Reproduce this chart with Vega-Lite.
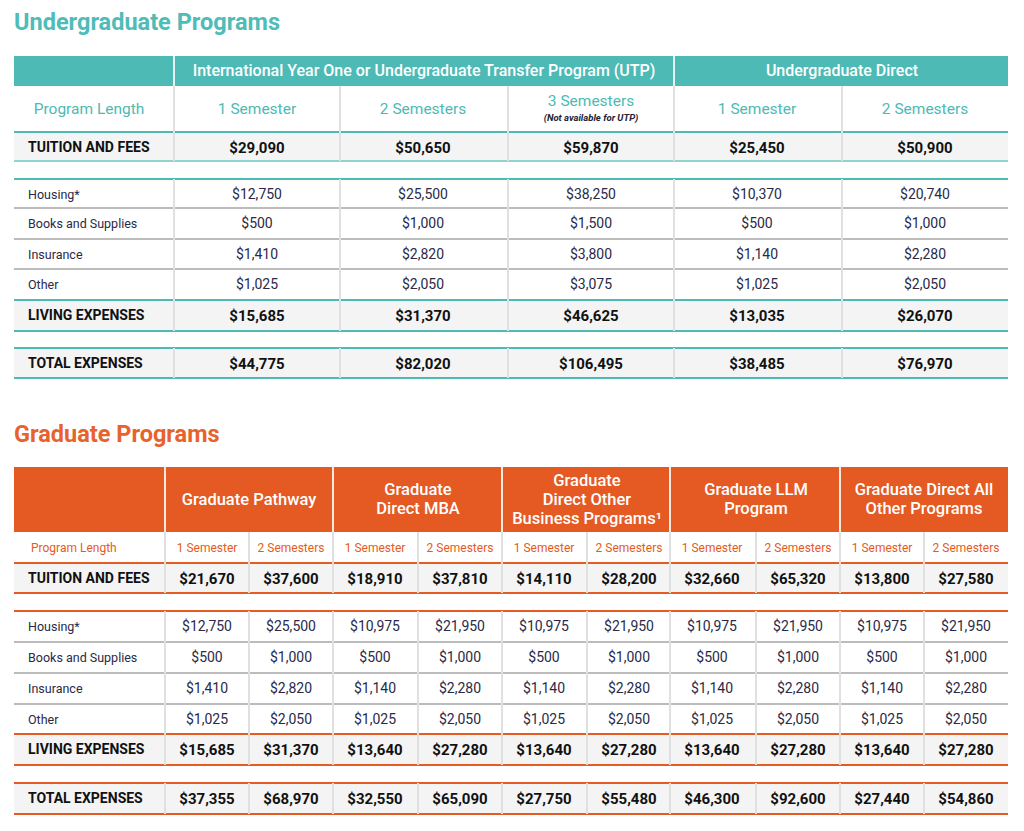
{
"$schema":"https://vega.github.io/schema/vega-lite/v6.json",
"width":1024,"height":831,"autosize":"none","padding":0,
"background":"#ffffff",
"config":{"view":{"stroke":null},"text":{"font":"Roboto, Liberation Sans, sans-serif"}},
"datasets":{
"cells":[
{"t":"U","r":0,"c":0,"v":"Undergraduate Programs","k":"title"},
{"t":"U","r":1,"c":2,"v":"International Year One or Undergraduate Transfer Program (UTP)","k":"h1c"},
{"t":"U","r":1,"c":5,"v":"Undergraduate Direct","k":"h1b"},
{"t":"U","r":2,"c":0,"v":"Program Length","k":"pl"},
{"t":"U","r":2,"c":1,"v":"1 Semester","k":"sem"},
{"t":"U","r":2,"c":2,"v":"2 Semesters","k":"sem"},
{"t":"U","r":2,"c":3,"v":"3 Semesters","k":"sem3"},
{"t":"U","r":2,"c":3,"v":"(Not available for UTP)","k":"note"},
{"t":"U","r":2,"c":4,"v":"1 Semester","k":"sem"},
{"t":"U","r":2,"c":5,"v":"2 Semesters","k":"sem"},
{"t":"U","r":3,"c":0,"v":"TUITION AND FEES","k":"labb"},
{"t":"U","r":3,"c":1,"v":"$29,090","k":"valb"},{"t":"U","r":3,"c":2,"v":"$50,650","k":"valb"},{"t":"U","r":3,"c":3,"v":"$59,870","k":"valb"},{"t":"U","r":3,"c":4,"v":"$25,450","k":"valb"},{"t":"U","r":3,"c":5,"v":"$50,900","k":"valb"},
{"t":"U","r":5,"c":0,"v":"Housing*","k":"lab"},
{"t":"U","r":5,"c":1,"v":"$12,750","k":"val"},{"t":"U","r":5,"c":2,"v":"$25,500","k":"val"},{"t":"U","r":5,"c":3,"v":"$38,250","k":"val"},{"t":"U","r":5,"c":4,"v":"$10,370","k":"val"},{"t":"U","r":5,"c":5,"v":"$20,740","k":"val"},
{"t":"U","r":6,"c":0,"v":"Books and Supplies","k":"lab"},
{"t":"U","r":6,"c":1,"v":"$500","k":"val"},{"t":"U","r":6,"c":2,"v":"$1,000","k":"val"},{"t":"U","r":6,"c":3,"v":"$1,500","k":"val"},{"t":"U","r":6,"c":4,"v":"$500","k":"val"},{"t":"U","r":6,"c":5,"v":"$1,000","k":"val"},
{"t":"U","r":7,"c":0,"v":"Insurance","k":"lab"},
{"t":"U","r":7,"c":1,"v":"$1,410","k":"val"},{"t":"U","r":7,"c":2,"v":"$2,820","k":"val"},{"t":"U","r":7,"c":3,"v":"$3,800","k":"val"},{"t":"U","r":7,"c":4,"v":"$1,140","k":"val"},{"t":"U","r":7,"c":5,"v":"$2,280","k":"val"},
{"t":"U","r":8,"c":0,"v":"Other","k":"lab"},
{"t":"U","r":8,"c":1,"v":"$1,025","k":"val"},{"t":"U","r":8,"c":2,"v":"$2,050","k":"val"},{"t":"U","r":8,"c":3,"v":"$3,075","k":"val"},{"t":"U","r":8,"c":4,"v":"$1,025","k":"val"},{"t":"U","r":8,"c":5,"v":"$2,050","k":"val"},
{"t":"U","r":9,"c":0,"v":"LIVING EXPENSES","k":"labb"},
{"t":"U","r":9,"c":1,"v":"$15,685","k":"valb"},{"t":"U","r":9,"c":2,"v":"$31,370","k":"valb"},{"t":"U","r":9,"c":3,"v":"$46,625","k":"valb"},{"t":"U","r":9,"c":4,"v":"$13,035","k":"valb"},{"t":"U","r":9,"c":5,"v":"$26,070","k":"valb"},
{"t":"U","r":11,"c":0,"v":"TOTAL EXPENSES","k":"labb"},
{"t":"U","r":11,"c":1,"v":"$44,775","k":"valb"},{"t":"U","r":11,"c":2,"v":"$82,020","k":"valb"},{"t":"U","r":11,"c":3,"v":"$106,495","k":"valb"},{"t":"U","r":11,"c":4,"v":"$38,485","k":"valb"},{"t":"U","r":11,"c":5,"v":"$76,970","k":"valb"},
{"t":"G","r":12,"c":0,"v":"Graduate Programs","k":"title"},
{"t":"G","r":13,"c":2,"v":"Graduate Pathway","k":"h1one"},
{"t":"G","r":13,"c":4,"v":"Graduate\nDirect MBA","k":"h1two"},
{"t":"G","r":13,"c":6,"v":"Graduate\nDirect Other\nBusiness Programs¹","k":"h1three"},
{"t":"G","r":13,"c":8,"v":"Graduate LLM\nProgram","k":"h1two"},
{"t":"G","r":13,"c":10,"v":"Graduate Direct All\nOther Programs","k":"h1two"},
{"t":"G","r":14,"c":0,"v":"Program Length","k":"pl"},
{"t":"G","r":14,"c":1,"v":"1 Semester","k":"sem"},{"t":"G","r":14,"c":2,"v":"2 Semesters","k":"sem"},{"t":"G","r":14,"c":3,"v":"1 Semester","k":"sem"},{"t":"G","r":14,"c":4,"v":"2 Semesters","k":"sem"},{"t":"G","r":14,"c":5,"v":"1 Semester","k":"sem"},{"t":"G","r":14,"c":6,"v":"2 Semesters","k":"sem"},{"t":"G","r":14,"c":7,"v":"1 Semester","k":"sem"},{"t":"G","r":14,"c":8,"v":"2 Semesters","k":"sem"},{"t":"G","r":14,"c":9,"v":"1 Semester","k":"sem"},{"t":"G","r":14,"c":10,"v":"2 Semesters","k":"sem"},
{"t":"G","r":15,"c":0,"v":"TUITION AND FEES","k":"labb"},
{"t":"G","r":15,"c":1,"v":"$21,670","k":"valb"},{"t":"G","r":15,"c":2,"v":"$37,600","k":"valb"},{"t":"G","r":15,"c":3,"v":"$18,910","k":"valb"},{"t":"G","r":15,"c":4,"v":"$37,810","k":"valb"},{"t":"G","r":15,"c":5,"v":"$14,110","k":"valb"},{"t":"G","r":15,"c":6,"v":"$28,200","k":"valb"},{"t":"G","r":15,"c":7,"v":"$32,660","k":"valb"},{"t":"G","r":15,"c":8,"v":"$65,320","k":"valb"},{"t":"G","r":15,"c":9,"v":"$13,800","k":"valb"},{"t":"G","r":15,"c":10,"v":"$27,580","k":"valb"},
{"t":"G","r":17,"c":0,"v":"Housing*","k":"lab"},
{"t":"G","r":17,"c":1,"v":"$12,750","k":"val"},{"t":"G","r":17,"c":2,"v":"$25,500","k":"val"},{"t":"G","r":17,"c":3,"v":"$10,975","k":"val"},{"t":"G","r":17,"c":4,"v":"$21,950","k":"val"},{"t":"G","r":17,"c":5,"v":"$10,975","k":"val"},{"t":"G","r":17,"c":6,"v":"$21,950","k":"val"},{"t":"G","r":17,"c":7,"v":"$10,975","k":"val"},{"t":"G","r":17,"c":8,"v":"$21,950","k":"val"},{"t":"G","r":17,"c":9,"v":"$10,975","k":"val"},{"t":"G","r":17,"c":10,"v":"$21,950","k":"val"},
{"t":"G","r":18,"c":0,"v":"Books and Supplies","k":"lab"},
{"t":"G","r":18,"c":1,"v":"$500","k":"val"},{"t":"G","r":18,"c":2,"v":"$1,000","k":"val"},{"t":"G","r":18,"c":3,"v":"$500","k":"val"},{"t":"G","r":18,"c":4,"v":"$1,000","k":"val"},{"t":"G","r":18,"c":5,"v":"$500","k":"val"},{"t":"G","r":18,"c":6,"v":"$1,000","k":"val"},{"t":"G","r":18,"c":7,"v":"$500","k":"val"},{"t":"G","r":18,"c":8,"v":"$1,000","k":"val"},{"t":"G","r":18,"c":9,"v":"$500","k":"val"},{"t":"G","r":18,"c":10,"v":"$1,000","k":"val"},
{"t":"G","r":19,"c":0,"v":"Insurance","k":"lab"},
{"t":"G","r":19,"c":1,"v":"$1,410","k":"val"},{"t":"G","r":19,"c":2,"v":"$2,820","k":"val"},{"t":"G","r":19,"c":3,"v":"$1,140","k":"val"},{"t":"G","r":19,"c":4,"v":"$2,280","k":"val"},{"t":"G","r":19,"c":5,"v":"$1,140","k":"val"},{"t":"G","r":19,"c":6,"v":"$2,280","k":"val"},{"t":"G","r":19,"c":7,"v":"$1,140","k":"val"},{"t":"G","r":19,"c":8,"v":"$2,280","k":"val"},{"t":"G","r":19,"c":9,"v":"$1,140","k":"val"},{"t":"G","r":19,"c":10,"v":"$2,280","k":"val"},
{"t":"G","r":20,"c":0,"v":"Other","k":"lab"},
{"t":"G","r":20,"c":1,"v":"$1,025","k":"val"},{"t":"G","r":20,"c":2,"v":"$2,050","k":"val"},{"t":"G","r":20,"c":3,"v":"$1,025","k":"val"},{"t":"G","r":20,"c":4,"v":"$2,050","k":"val"},{"t":"G","r":20,"c":5,"v":"$1,025","k":"val"},{"t":"G","r":20,"c":6,"v":"$2,050","k":"val"},{"t":"G","r":20,"c":7,"v":"$1,025","k":"val"},{"t":"G","r":20,"c":8,"v":"$2,050","k":"val"},{"t":"G","r":20,"c":9,"v":"$1,025","k":"val"},{"t":"G","r":20,"c":10,"v":"$2,050","k":"val"},
{"t":"G","r":21,"c":0,"v":"LIVING EXPENSES","k":"labb"},
{"t":"G","r":21,"c":1,"v":"$15,685","k":"valb"},{"t":"G","r":21,"c":2,"v":"$31,370","k":"valb"},{"t":"G","r":21,"c":3,"v":"$13,640","k":"valb"},{"t":"G","r":21,"c":4,"v":"$27,280","k":"valb"},{"t":"G","r":21,"c":5,"v":"$13,640","k":"valb"},{"t":"G","r":21,"c":6,"v":"$27,280","k":"valb"},{"t":"G","r":21,"c":7,"v":"$13,640","k":"valb"},{"t":"G","r":21,"c":8,"v":"$27,280","k":"valb"},{"t":"G","r":21,"c":9,"v":"$13,640","k":"valb"},{"t":"G","r":21,"c":10,"v":"$27,280","k":"valb"},
{"t":"G","r":23,"c":0,"v":"TOTAL EXPENSES","k":"labb"},
{"t":"G","r":23,"c":1,"v":"$37,355","k":"valb"},{"t":"G","r":23,"c":2,"v":"$68,970","k":"valb"},{"t":"G","r":23,"c":3,"v":"$32,550","k":"valb"},{"t":"G","r":23,"c":4,"v":"$65,090","k":"valb"},{"t":"G","r":23,"c":5,"v":"$27,750","k":"valb"},{"t":"G","r":23,"c":6,"v":"$55,480","k":"valb"},{"t":"G","r":23,"c":7,"v":"$46,300","k":"valb"},{"t":"G","r":23,"c":8,"v":"$92,600","k":"valb"},{"t":"G","r":23,"c":9,"v":"$27,440","k":"valb"},{"t":"G","r":23,"c":10,"v":"$54,860","k":"valb"}
],
"rects":[
{"t":"U","r0":1,"r1":2,"c0":0,"c1":6,"k":"head"},
{"t":"U","r0":3,"r1":4,"c0":0,"c1":6,"k":"gray"},
{"t":"U","r0":9,"r1":10,"c0":0,"c1":6,"k":"gray"},
{"t":"U","r0":11,"r1":12,"c0":0,"c1":6,"k":"gray"},
{"t":"G","r0":13,"r1":14,"c0":0,"c1":11,"k":"head"},
{"t":"G","r0":15,"r1":16,"c0":0,"c1":11,"k":"gray"},
{"t":"G","r0":21,"r1":22,"c0":0,"c1":11,"k":"gray"},
{"t":"G","r0":23,"r1":24,"c0":0,"c1":11,"k":"gray"}
],
"hrules":[
{"t":"U","r":3,"k":"main"},{"t":"U","r":4,"k":"light"},{"t":"U","r":5,"k":"main"},{"t":"U","r":6,"k":"gray"},{"t":"U","r":7,"k":"gray"},{"t":"U","r":8,"k":"gray"},{"t":"U","r":9,"k":"main"},{"t":"U","r":10,"k":"main"},{"t":"U","r":11,"k":"main"},{"t":"U","r":12,"k":"main"},
{"t":"G","r":15,"k":"main"},{"t":"G","r":16,"k":"main"},{"t":"G","r":17,"k":"main"},{"t":"G","r":18,"k":"gray"},{"t":"G","r":19,"k":"gray"},{"t":"G","r":20,"k":"gray"},{"t":"G","r":21,"k":"main"},{"t":"G","r":22,"k":"main"},{"t":"G","r":23,"k":"main"},{"t":"G","r":24,"k":"main"}
],
"vrules":[
{"t":"U","c":1,"r0":1,"r1":2,"k":"white"},{"t":"U","c":4,"r0":1,"r1":2,"k":"white"},
{"t":"U","c":1,"r0":2,"r1":4,"k":"gray"},{"t":"U","c":2,"r0":2,"r1":4,"k":"gray"},{"t":"U","c":3,"r0":2,"r1":4,"k":"gray"},{"t":"U","c":4,"r0":2,"r1":4,"k":"gray"},{"t":"U","c":5,"r0":2,"r1":4,"k":"gray"},
{"t":"U","c":1,"r0":5,"r1":10,"k":"gray"},{"t":"U","c":2,"r0":5,"r1":10,"k":"gray"},{"t":"U","c":3,"r0":5,"r1":10,"k":"gray"},{"t":"U","c":4,"r0":5,"r1":10,"k":"gray"},{"t":"U","c":5,"r0":5,"r1":10,"k":"gray"},
{"t":"U","c":1,"r0":11,"r1":12,"k":"gray"},{"t":"U","c":2,"r0":11,"r1":12,"k":"gray"},{"t":"U","c":3,"r0":11,"r1":12,"k":"gray"},{"t":"U","c":4,"r0":11,"r1":12,"k":"gray"},{"t":"U","c":5,"r0":11,"r1":12,"k":"gray"},
{"t":"G","c":1,"r0":13,"r1":14,"k":"white"},{"t":"G","c":3,"r0":13,"r1":14,"k":"white"},{"t":"G","c":5,"r0":13,"r1":14,"k":"white"},{"t":"G","c":7,"r0":13,"r1":14,"k":"white"},{"t":"G","c":9,"r0":13,"r1":14,"k":"white"},
{"t":"G","c":1,"r0":14,"r1":16,"k":"gray"},{"t":"G","c":2,"r0":14,"r1":16,"k":"gray"},{"t":"G","c":3,"r0":14,"r1":16,"k":"gray"},{"t":"G","c":4,"r0":14,"r1":16,"k":"gray"},{"t":"G","c":5,"r0":14,"r1":16,"k":"gray"},{"t":"G","c":6,"r0":14,"r1":16,"k":"gray"},{"t":"G","c":7,"r0":14,"r1":16,"k":"gray"},{"t":"G","c":8,"r0":14,"r1":16,"k":"gray"},{"t":"G","c":9,"r0":14,"r1":16,"k":"gray"},{"t":"G","c":10,"r0":14,"r1":16,"k":"gray"},
{"t":"G","c":1,"r0":17,"r1":22,"k":"gray"},{"t":"G","c":2,"r0":17,"r1":22,"k":"gray"},{"t":"G","c":3,"r0":17,"r1":22,"k":"gray"},{"t":"G","c":4,"r0":17,"r1":22,"k":"gray"},{"t":"G","c":5,"r0":17,"r1":22,"k":"gray"},{"t":"G","c":6,"r0":17,"r1":22,"k":"gray"},{"t":"G","c":7,"r0":17,"r1":22,"k":"gray"},{"t":"G","c":8,"r0":17,"r1":22,"k":"gray"},{"t":"G","c":9,"r0":17,"r1":22,"k":"gray"},{"t":"G","c":10,"r0":17,"r1":22,"k":"gray"},
{"t":"G","c":1,"r0":23,"r1":24,"k":"gray"},{"t":"G","c":2,"r0":23,"r1":24,"k":"gray"},{"t":"G","c":3,"r0":23,"r1":24,"k":"gray"},{"t":"G","c":4,"r0":23,"r1":24,"k":"gray"},{"t":"G","c":5,"r0":23,"r1":24,"k":"gray"},{"t":"G","c":6,"r0":23,"r1":24,"k":"gray"},{"t":"G","c":7,"r0":23,"r1":24,"k":"gray"},{"t":"G","c":8,"r0":23,"r1":24,"k":"gray"},{"t":"G","c":9,"r0":23,"r1":24,"k":"gray"},{"t":"G","c":10,"r0":23,"r1":24,"k":"gray"}
]
},
"resolve":{"scale":{"x":"independent"}},
"layer":[
{"layer":[
{"data":{"name":"rects"},"transform":[{"filter":"datum.t=='U'"}],
 "mark":{"type":"rect"},
 "encoding":{
  "x":{"field":"c0","type":"quantitative","axis":null,"scale":{"domain":[0,1,2,3,4,5,6],"range":[14,174,340,508,674,842,1008],"nice":false,"zero":false}},
  "x2":{"field":"c1"},
  "y":{"field":"r0","type":"quantitative","axis":null,"scale":{"domain":[0,1,2,3,4,5,6,7,8,9,10,11,12,13,14,15,16,17,18,19,20,21,22,23,24,25],"range":[0,56,86,132,161,179,208,239,269,300,331,348,378,467,532,563,593,611,642,673,704,734,765,783,814,831],"nice":false,"zero":false}},
  "y2":{"field":"r1"},
  "fill":{"condition":{"test":"datum.k=='head'","value":"#4dbab5"},"value":"#f4f4f4"}
 }},
{"data":{"name":"hrules"},"transform":[{"filter":"datum.t=='U'"}],
 "mark":{"type":"rule"},
 "encoding":{
  "x":{"datum":0,"type":"quantitative"},"x2":{"datum":6},
  "y":{"field":"r","type":"quantitative"},
  "stroke":{"condition":[{"test":"datum.k=='gray'","value":"#a6a6a6"},{"test":"datum.k=='light'","value":"#92d2cf"}],"value":"#4dbab5"},
  "strokeWidth":{"condition":{"test":"datum.k=='gray'","value":1.5},"value":2.2}
 }},
{"data":{"name":"vrules"},"transform":[{"filter":"datum.t=='U'"}],
 "mark":{"type":"rule"},
 "encoding":{
  "x":{"field":"c","type":"quantitative"},
  "y":{"field":"r0","type":"quantitative"},"y2":{"field":"r1"},
  "stroke":{"condition":{"test":"datum.k=='white'","value":"#e6f5f4"},"value":"#e0e0e0"},
  "strokeWidth":{"value":2}
 }},
{"data":{"name":"cells"},"transform":[{"filter":"datum.t=='U' && datum.k=='title'"}],
 "mark":{"type":"text","align":"left","baseline":"alphabetic","dy":30,"fontSize":23.5,"fontWeight":"bold","color":"#4fbcb7"},
 "encoding":{"x":{"field":"c","type":"quantitative"},"y":{"field":"r","type":"quantitative"},"text":{"field":"v"}}},
{"data":{"name":"cells"},"transform":[{"filter":"datum.t=='U' && datum.k=='h1c'"}],
 "mark":{"type":"text","align":"center","baseline":"middle","dx":84,"dy":15,"fontSize":16,"fontWeight":500,"color":"#ffffff"},
 "encoding":{"x":{"field":"c","type":"quantitative"},"y":{"field":"r","type":"quantitative"},"text":{"field":"v"}}},
{"data":{"name":"cells"},"transform":[{"filter":"datum.t=='U' && datum.k=='h1b'"}],
 "mark":{"type":"text","align":"center","baseline":"middle","dy":15,"fontSize":16,"fontWeight":500,"color":"#ffffff"},
 "encoding":{"x":{"field":"c","type":"quantitative"},"y":{"field":"r","type":"quantitative"},"text":{"field":"v"}}},
{"data":{"name":"cells"},"transform":[{"filter":"datum.t=='U' && datum.k=='pl'"}],
 "mark":{"type":"text","align":"center","baseline":"middle","dx":75,"dy":23,"fontSize":15.5,"color":"#4dbab5"},
 "encoding":{"x":{"field":"c","type":"quantitative"},"y":{"field":"r","type":"quantitative"},"text":{"field":"v"}}},
{"data":{"name":"cells"},"transform":[{"filter":"datum.t=='U' && datum.k=='sem'"}],
 "mark":{"type":"text","align":"center","baseline":"middle","dx":83,"dy":23,"fontSize":15.5,"color":"#4dbab5"},
 "encoding":{"x":{"field":"c","type":"quantitative"},"y":{"field":"r","type":"quantitative"},"text":{"field":"v"}}},
{"data":{"name":"cells"},"transform":[{"filter":"datum.t=='U' && datum.k=='sem3'"}],
 "mark":{"type":"text","align":"center","baseline":"middle","dx":83,"dy":15,"fontSize":15.5,"color":"#4dbab5"},
 "encoding":{"x":{"field":"c","type":"quantitative"},"y":{"field":"r","type":"quantitative"},"text":{"field":"v"}}},
{"data":{"name":"cells"},"transform":[{"filter":"datum.t=='U' && datum.k=='note'"}],
 "mark":{"type":"text","align":"center","baseline":"middle","dx":83,"dy":31.5,"fontSize":9.5,"fontStyle":"italic","fontWeight":"bold","color":"#222233"},
 "encoding":{"x":{"field":"c","type":"quantitative"},"y":{"field":"r","type":"quantitative"},"text":{"field":"v"}}},
{"data":{"name":"cells"},"transform":[{"filter":"datum.t=='U' && datum.k=='lab'"}],
 "mark":{"type":"text","align":"left","baseline":"middle","dx":14,"dy":16,"fontSize":12.5,"color":"#2a2a48"},
 "encoding":{"x":{"field":"c","type":"quantitative"},"y":{"field":"r","type":"quantitative"},"text":{"field":"v"}}},
{"data":{"name":"cells"},"transform":[{"filter":"datum.t=='U' && datum.k=='labb'"}],
 "mark":{"type":"text","align":"left","baseline":"middle","dx":14,"dy":16,"fontSize":14,"fontWeight":"bold","color":"#111111"},
 "encoding":{"x":{"field":"c","type":"quantitative"},"y":{"field":"r","type":"quantitative"},"text":{"field":"v"}}},
{"data":{"name":"cells"},"transform":[{"filter":"datum.t=='U' && datum.k=='val'"}],
 "mark":{"type":"text","align":"center","baseline":"middle","dx":83,"dy":15.5,"fontSize":14,"color":"#2a2a48"},
 "encoding":{"x":{"field":"c","type":"quantitative"},"y":{"field":"r","type":"quantitative"},"text":{"field":"v"}}},
{"data":{"name":"cells"},"transform":[{"filter":"datum.t=='U' && datum.k=='valb'"}],
 "mark":{"type":"text","align":"center","baseline":"middle","dx":83,"dy":15.5,"fontSize":15,"fontWeight":"bold","color":"#111111"},
 "encoding":{"x":{"field":"c","type":"quantitative"},"y":{"field":"r","type":"quantitative"},"text":{"field":"v"}}}
]},
{"layer":[
{"data":{"name":"rects"},"transform":[{"filter":"datum.t=='G'"}],
 "mark":{"type":"rect"},
 "encoding":{
  "x":{"field":"c0","type":"quantitative","axis":null,"scale":{"domain":[0,1,2,3,4,5,6,7,8,9,10,11],"range":[14,165,249,333,418,502,587,670,756,840,924,1008],"nice":false,"zero":false}},
  "x2":{"field":"c1"},
  "y":{"field":"r0","type":"quantitative","axis":null},
  "y2":{"field":"r1"},
  "fill":{"condition":{"test":"datum.k=='head'","value":"#e55a23"},"value":"#f4f4f4"}
 }},
{"data":{"name":"hrules"},"transform":[{"filter":"datum.t=='G'"}],
 "mark":{"type":"rule"},
 "encoding":{
  "x":{"datum":0,"type":"quantitative"},"x2":{"datum":11},
  "y":{"field":"r","type":"quantitative"},
  "stroke":{"condition":{"test":"datum.k=='gray'","value":"#a6a6a6"},"value":"#e65b22"},
  "strokeWidth":{"condition":{"test":"datum.k=='gray'","value":1.5},"value":2.2}
 }},
{"data":{"name":"vrules"},"transform":[{"filter":"datum.t=='G'"}],
 "mark":{"type":"rule"},
 "encoding":{
  "x":{"field":"c","type":"quantitative"},
  "y":{"field":"r0","type":"quantitative"},"y2":{"field":"r1"},
  "stroke":{"condition":{"test":"datum.k=='white'","value":"#fbe9e2"},"value":"#e0e0e0"},
  "strokeWidth":{"value":2}
 }},
{"data":{"name":"cells"},"transform":[{"filter":"datum.t=='G' && datum.k=='title'"}],
 "mark":{"type":"text","align":"left","baseline":"alphabetic","dy":64,"fontSize":23.5,"fontWeight":"bold","color":"#e8622c"},
 "encoding":{"x":{"field":"c","type":"quantitative"},"y":{"field":"r","type":"quantitative"},"text":{"field":"v"}}},
{"data":{"name":"cells"},"transform":[{"filter":"datum.t=='G' && datum.k=='h1one'"}],
 "mark":{"type":"text","align":"center","baseline":"middle","dy":32.5,"lineBreak":"\n","lineHeight":19,"fontSize":16.5,"fontWeight":500,"color":"#ffffff"},
 "encoding":{"x":{"field":"c","type":"quantitative"},"y":{"field":"r","type":"quantitative"},"text":{"field":"v"}}},
{"data":{"name":"cells"},"transform":[{"filter":"datum.t=='G' && datum.k=='h1two'"}],
 "mark":{"type":"text","align":"center","baseline":"middle","dy":23,"lineBreak":"\n","lineHeight":19,"fontSize":16.5,"fontWeight":500,"color":"#ffffff"},
 "encoding":{"x":{"field":"c","type":"quantitative"},"y":{"field":"r","type":"quantitative"},"text":{"field":"v"}}},
{"data":{"name":"cells"},"transform":[{"filter":"datum.t=='G' && datum.k=='h1three'"}],
 "mark":{"type":"text","align":"center","baseline":"middle","dy":13.5,"lineBreak":"\n","lineHeight":19,"fontSize":16.5,"fontWeight":500,"color":"#ffffff"},
 "encoding":{"x":{"field":"c","type":"quantitative"},"y":{"field":"r","type":"quantitative"},"text":{"field":"v"}}},
{"data":{"name":"cells"},"transform":[{"filter":"datum.t=='G' && datum.k=='pl'"}],
 "mark":{"type":"text","align":"left","baseline":"middle","dx":17,"dy":15.5,"fontSize":12,"color":"#e65b22"},
 "encoding":{"x":{"field":"c","type":"quantitative"},"y":{"field":"r","type":"quantitative"},"text":{"field":"v"}}},
{"data":{"name":"cells"},"transform":[{"filter":"datum.t=='G' && datum.k=='sem'"}],
 "mark":{"type":"text","align":"center","baseline":"middle","dx":42,"dy":15.5,"fontSize":12,"color":"#e65b22"},
 "encoding":{"x":{"field":"c","type":"quantitative"},"y":{"field":"r","type":"quantitative"},"text":{"field":"v"}}},
{"data":{"name":"cells"},"transform":[{"filter":"datum.t=='G' && datum.k=='lab'"}],
 "mark":{"type":"text","align":"left","baseline":"middle","dx":14,"dy":16,"fontSize":12.5,"color":"#2a2a48"},
 "encoding":{"x":{"field":"c","type":"quantitative"},"y":{"field":"r","type":"quantitative"},"text":{"field":"v"}}},
{"data":{"name":"cells"},"transform":[{"filter":"datum.t=='G' && datum.k=='labb'"}],
 "mark":{"type":"text","align":"left","baseline":"middle","dx":14,"dy":16,"fontSize":14,"fontWeight":"bold","color":"#111111"},
 "encoding":{"x":{"field":"c","type":"quantitative"},"y":{"field":"r","type":"quantitative"},"text":{"field":"v"}}},
{"data":{"name":"cells"},"transform":[{"filter":"datum.t=='G' && datum.k=='val'"}],
 "mark":{"type":"text","align":"center","baseline":"middle","dx":42,"dy":15.5,"fontSize":14,"color":"#2a2a48"},
 "encoding":{"x":{"field":"c","type":"quantitative"},"y":{"field":"r","type":"quantitative"},"text":{"field":"v"}}},
{"data":{"name":"cells"},"transform":[{"filter":"datum.t=='G' && datum.k=='valb'"}],
 "mark":{"type":"text","align":"center","baseline":"middle","dx":42,"dy":15.5,"fontSize":15,"fontWeight":"bold","color":"#111111"},
 "encoding":{"x":{"field":"c","type":"quantitative"},"y":{"field":"r","type":"quantitative"},"text":{"field":"v"}}}
]}
]
}
